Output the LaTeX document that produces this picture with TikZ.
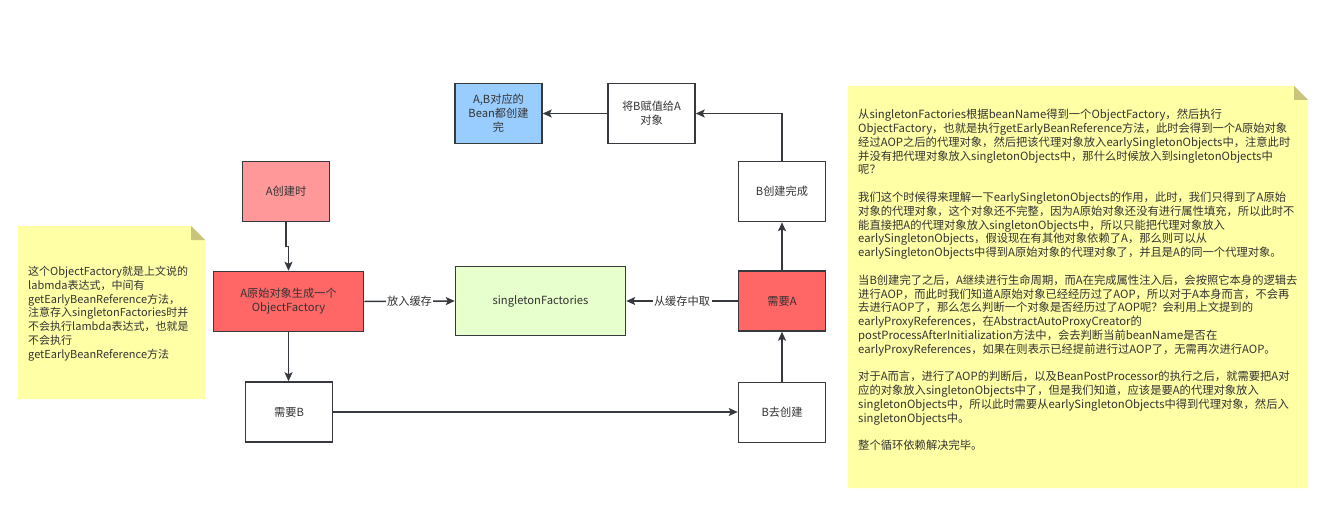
\documentclass[tikz,border=0pt]{standalone}
\usepackage{fontspec}
\setmainfont{Noto Sans CJK SC}
\usetikzlibrary{arrows.meta}
\definecolor{strokec}{HTML}{36393D}
\definecolor{textc}{HTML}{333333}
\definecolor{lightred}{HTML}{FF9999}
\definecolor{midred}{HTML}{FF6666}
\definecolor{lightgreen}{HTML}{E6FFCC}
\definecolor{lightblue}{HTML}{99CCFF}
\definecolor{notefill}{HTML}{FFFFA6}
\definecolor{foldc}{HTML}{C9C47C}
\begin{document}
\begin{tikzpicture}[x=1pt,y=-1pt,
  box/.style={draw=strokec, line width=1.5pt, fill=white, minimum width=87pt, minimum height=60pt, inner sep=2pt, align=center, text=textc, font=\fontsize{11.2}{14}\selectfont},
  conn/.style={draw=strokec, line width=1.5pt, -{Stealth[length=9pt,width=8pt,inset=2pt]}},
  lbl/.style={fill=white, inner sep=1.5pt, text=textc, font=\fontsize{11.2}{14}\selectfont},
  notetext/.style={inner sep=0pt, align=left, text=textc, font=\fontsize{11.3}{13.8}\selectfont}]
\useasboundingbox[fill=white] (0,0) rectangle (1329,508);

% notes
\fill[notefill] (18,226) -- (191,226) -- (205,240) -- (205,399) -- (18,399) -- cycle;
\fill[foldc] (191,226) -- (191,240) -- (205,240) -- cycle;
\fill[notefill] (848,86) -- (1294,86) -- (1308,100) -- (1308,488) -- (848,488) -- cycle;
\fill[foldc] (1294,86) -- (1294,100) -- (1308,100) -- cycle;

\node[notetext, font=\fontsize{11}{13.8}\selectfont, text width=190pt, anchor=north west] (lefttext) at (28,266) {%
这个ObjectFactory就是上文说的\\
labmda表达式，中间有\\
getEarlyBeanReference方法，\\
注意存入singletonFactories时并\\
不会执行lambda表达式，也就是\\
不会执行\\
getEarlyBeanReference方法};

\node[notetext, text width=470pt, anchor=north west] (righttext) at (858,109) {%
从singletonFactories根据beanName得到一个ObjectFactory，然后执行\\
ObjectFactory，也就是执行getEarlyBeanReference方法，此时会得到一个A原始对象\\
经过AOP之后的代理对象，然后把该代理对象放入earlySingletonObjects中，注意此时\\
并没有把代理对象放入singletonObjects中，那什么时候放入到singletonObjects中\\
呢？\\[13.8pt]
我们这个时候得来理解一下earlySingletonObjects的作用，此时，我们只得到了A原始\\
对象的代理对象，这个对象还不完整，因为A原始对象还没有进行属性填充，所以此时不\\
能直接把A的代理对象放入singletonObjects中，所以只能把代理对象放入\\
earlySingletonObjects，假设现在有其他对象依赖了A，那么则可以从\\
earlySingletonObjects中得到A原始对象的代理对象了，并且是A的同一个代理对象。\\[13.8pt]
当B创建完了之后，A继续进行生命周期，而A在完成属性注入后，会按照它本身的逻辑去\\
进行AOP，而此时我们知道A原始对象已经经历过了AOP，所以对于A本身而言，不会再\\
去进行AOP了，那么怎么判断一个对象是否经历过了AOP呢？会利用上文提到的\\
earlyProxyReferences，在AbstractAutoProxyCreator的\\
postProcessAfterInitialization方法中，会去判断当前beanName是否在\\
earlyProxyReferences，如果在则表示已经提前进行过AOP了，无需再次进行AOP。\\[13.8pt]
对于A而言，进行了AOP的判断后，以及BeanPostProcessor的执行之后，就需要把A对\\
应的对象放入singletonObjects中了，但是我们知道，应该是要A的代理对象放入\\
singletonObjects中，所以此时需要从earlySingletonObjects中得到代理对象，然后入\\
singletonObjects中。\\[13.8pt]
整个循环依赖解决完毕。};

% boxes
\node[box, fill=lightred] (acreate) at (286,191.5) {A创建时};
\node[box, fill=midred, minimum width=150pt] (aorig) at (288.5,301.5) {A原始对象生成一个\\ObjectFactory};
\node[box] (needb) at (289,412) {需要B};
\node[box, fill=lightgreen, minimum width=170pt, minimum height=69pt] (sf) at (540.5,301) {singletonFactories};
\node[box, fill=lightblue] (ab) at (498.5,113.5) {A,B对应的\\Bean都创建\\完};
\node[box] (assign) at (651.5,113.5) {将B赋值给A\\对象};
\node[box] (bdone) at (782,191.5) {B创建完成};
\node[box, fill=midred] (needa) at (782,301) {需要A};
\node[box] (bgo) at (782,412.5) {B去创建};

% connectors
\draw[conn] (acreate.south) -- ++(0,24) -| (aorig.north);
\draw[conn] (aorig.south) -- (aorig.south |- needb.north);
\draw[conn] (aorig.east) -- node[lbl] {放入缓存} (sf.west);
\draw[conn] (needb.east) -- (needb.east -| bgo.west);
\draw[conn] (bgo.north) -- (needa.south);
\draw[conn] (needa.north) -- (bdone.south);
\draw[conn] (bdone.north) |- (assign.east);
\draw[conn] (assign.west) -- (ab.east);
\draw[conn] (needa.west) -- node[lbl] {从缓存中取} (sf.east);
\end{tikzpicture}
\end{document}
